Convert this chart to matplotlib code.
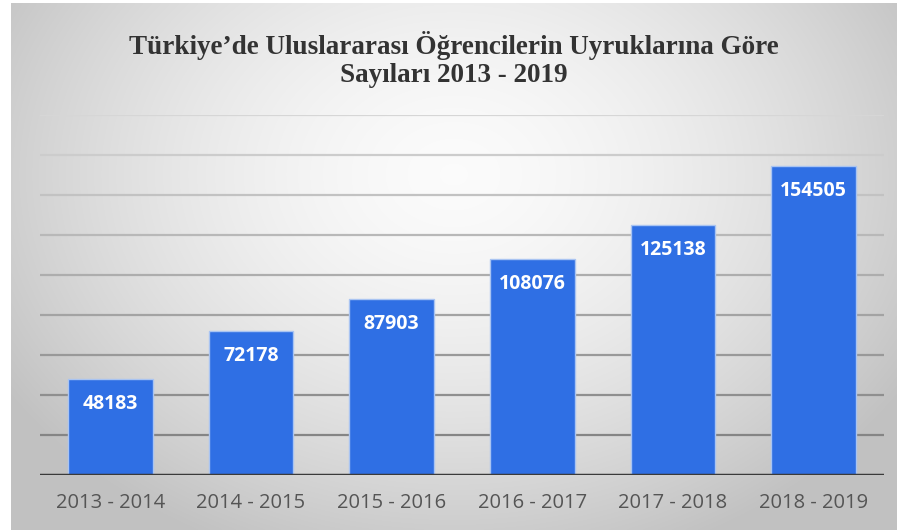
import numpy as np
import matplotlib.pyplot as plt

years = ["2013 - 2014", "2014 - 2015", "2015 - 2016",
         "2016 - 2017", "2017 - 2018", "2018 - 2019"]
students = [48183, 72178, 87903, 108076, 125138, 154505]

W, H = 907, 532
fig = plt.figure(figsize=(W / 100, H / 100), dpi=100)
fig.patch.set_facecolor("white")

# radial gradient panel behind the chart
bg = fig.add_axes([11 / W, 2 / H, 886 / W, 527 / H])
yy, xx = np.mgrid[-1:1:300j, -1:1:500j]
r = np.sqrt(xx ** 2 + ((yy + 0.35) / 1.3) ** 2)
shade = np.clip(0.985 - 0.17 * r ** 1.6, 0.76, 1)
bg.imshow(np.dstack([shade] * 3), aspect="auto",
          extent=[0, 1, 0, 1], interpolation="bicubic")
bg.set_axis_off()

ax = fig.add_axes([40 / W, (H - 475) / H, 844 / W, 360 / H])
ax.patch.set_alpha(0)
x = np.arange(len(years))
ax.set_xlim(-0.5, len(years) - 0.5)
ax.set_ylim(0, 180000)

for v in range(20000, 180001, 20000):
    g = 0.48 + 0.36 * (v / 180000)
    ax.axhline(v, color=(g, g, g), lw=1.6, zorder=1)

ax.bar(x, students, width=0.6, color="#2f6fe4",
       edgecolor="#a9c4f2", linewidth=1.0, zorder=2)

for xi, v in zip(x, students):
    ax.text(xi, v - 12500, str(v), ha="center", va="center",
            color="white", fontsize=14, fontweight="bold",
            family="Open Sans", zorder=3)

ax.axhline(0, color="#3a3a3a", lw=2.5, zorder=4)

ax.set_xticks(x)
ax.set_xticklabels(years, fontsize=14.5, color="#555555", family="Open Sans")
ax.tick_params(axis="x", length=0, pad=13)
ax.set_yticks([])
for s in ax.spines.values():
    s.set_visible(False)

fig.text(0.5, 1 - 45 / H, "Türkiye’de Uluslararası Öğrencilerin Uyruklarına Göre",
         ha="center", va="center", fontsize=19.5, fontweight="bold",
         family="Liberation Serif", color="#333333")
fig.text(0.5, 1 - 76 / H, "Sayıları 2013 - 2019",
         ha="center", va="center", fontsize=19.5, fontweight="bold",
         family="Liberation Serif", color="#333333")

fig.savefig("out.png", dpi=100)
